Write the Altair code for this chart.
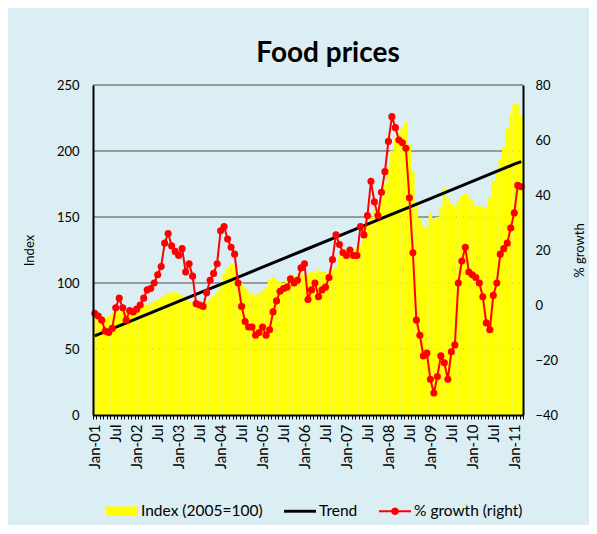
import altair as alt
import pandas as pd

# ---- categories -------------------------------------------------------
years = list(range(2001, 2012))
months = [f"{y}-{m:02d}" for y in years for m in range(1, 13)][:123]  # Jan-01 .. Mar-11

# ---- series values ----------------------------------------------------
index_values = [
    78, 77, 75, 74, 75, 77, 79, 78, 80, 80, 81, 82,            # 2001
    82, 83, 84, 83, 85, 86, 87, 89, 90, 93, 92, 93,            # 2002
    92, 91, 88, 86, 85, 84, 83, 84, 86, 88, 90, 93,            # 2003
    98, 107, 112, 115, 113, 105, 100, 96, 93, 92, 91, 92,      # 2004
    94, 97, 103, 104, 102, 101, 100, 102, 104, 106, 105, 107,  # 2005
    106, 107, 109, 108, 110, 109, 108, 108, 110, 112, 120, 124,  # 2006
    126, 123, 125, 127, 128, 134, 145, 150, 155, 156, 165, 175,  # 2007
    188, 200, 210, 214, 218, 222, 205, 184, 160, 149, 143, 142,  # 2008
    153, 148, 150, 158, 172, 164, 160, 158, 162, 166, 168, 165,  # 2009
    163, 159, 158, 158, 157, 165, 177, 183, 194, 203, 217, 228,  # 2010
    236, 235, 227,                                               # 2011
]

growth_values = [
    -3, -4, -5.5, -9.5, -10, -8.5, -1, 2.5, -1, -5.5, -2, -2.5,
    -1.5, 0, 2.5, 5.5, 6, 8, 11, 14, 22.5, 26, 21.5, 19.5,
    18, 20.5, 12, 15, 10.5, 0.5, 0, -0.5, 4.5, 9, 11.5, 15,
    27, 28.5, 24, 21, 18.5, 8, -0.5, -6, -8, -8, -11, -10,
    -8, -11, -9, -2.5, 1.5, 5, 6, 6.5, 9.5, 8, 9, 13.5,
    15, 2, 5.5, 8, 3, 5.5, 6.5, 10, 16.5, 25.5, 22, 19,
    18, 20, 18, 18, 28.5, 25.5, 32.5, 45, 37.5, 32.5, 41, 48.5,
    59.5, 68.5, 64.5, 60, 59, 57, 39, 19, -5.5, -11, -18.5, -17.5,
    -27, -32, -26, -18.5, -21, -27, -17, -14.5, 8, 16, 21, 12,
    11, 10, 8, 3, -6.5, -9, 3.5, 8, 18.5, 20.5, 22.5, 28,
    33.5, 43.5, 43,
]

trend_months = ["2001-01", "2002-01", "2003-01", "2004-01", "2005-01", "2006-01",
                "2007-01", "2008-01", "2009-01", "2010-01", "2011-01", "2011-03"]
trend_values = [60, 73, 86, 99, 112, 125, 138, 151, 164, 177, 190, 192]

left_ticks = [0, 50, 100, 150, 200, 250]
grid_values = [50, 100, 150, 200, 250]
right_ticks = [-40, -20, 0, 20, 40, 60, 80]

series_names = ["Index (2005=100)", "Trend", "% growth (right)"]
series_colors = ["#FFFF00", "#000000", "#FF0000"]
series_shapes = [
    "M-1,-0.3H1V0.3H-1Z",
    "M-1,-0.09H1V0.09H-1Z",
    "M-1,-0.06H1V0.06H-1Z M-0.24,0A0.24,0.24 0 1,1 0.24,0A0.24,0.24 0 1,1 -0.24,0Z",
]

FONT = "Lato"

df = pd.DataFrame({"month": months, "index": index_values, "growth": growth_values})
tdf = pd.DataFrame({"month": trend_months, "index": trend_values})
gdf = pd.DataFrame({"index": grid_values})
ldf = pd.DataFrame({"series": series_names})

label_expr = ("substring(datum.value,5,7)=='01' ? 'Jan-' + substring(datum.value,2,4) : "
              "(substring(datum.value,5,7)=='07' ? 'Jul' : '')")

xscale = alt.Scale(domain=months, paddingInner=0, paddingOuter=0)
yleft = alt.Scale(domain=[0, 250], nice=False, zero=True)
yright = alt.Scale(domain=[-40, 80], nice=False, zero=False)

x_axis = alt.Axis(title=None, labelExpr=label_expr, labelAngle=270,
                  labelOverlap=False, labelFontSize=15, labelPadding=5,
                  tickSize=4, tickColor="#000000", tickWidth=1, tickBand="extent",
                  domainColor="#000000", domainWidth=2, zindex=1,
                  labelColor="#000000", labelFont=FONT)
yl_axis = alt.Axis(title="Index", orient="left", values=left_ticks, grid=False,
                   ticks=False, labelPadding=14, labelFontSize=13,
                   titleFontSize=13, titleFontWeight="normal", titlePadding=20,
                   domainColor="#000000", domainWidth=2, zindex=1,
                   labelColor="#000000", titleColor="#000000",
                   labelFont=FONT, titleFont=FONT)
yr_axis = alt.Axis(title="% growth", orient="right", values=right_ticks, grid=False,
                   ticks=False, labelPadding=12, labelFontSize=13,
                   titleFontSize=13, titleFontWeight="normal", titlePadding=16,
                   titleAngle=270, titleBaseline="top",
                   domainColor="#000000", domainWidth=2, zindex=1,
                   labelColor="#000000", titleColor="#000000",
                   labelFont=FONT, titleFont=FONT)

grid = alt.Chart(gdf).mark_rule(color="#7f7f7f", strokeWidth=1.3).encode(
    y=alt.Y("index:Q", scale=yleft, axis=yl_axis)
)

bars = alt.Chart(df).mark_bar(color="#FFFF00", strokeWidth=0).encode(
    x=alt.X("month:O", scale=xscale, sort=None, axis=x_axis),
    y=alt.Y("index:Q", scale=yleft, axis=yl_axis),
)

trend = alt.Chart(tdf).mark_line(color="#000000", strokeWidth=3).encode(
    x=alt.X("month:O", scale=xscale, sort=None, axis=x_axis),
    y=alt.Y("index:Q", scale=yleft, axis=yl_axis),
)

left_layer = alt.layer(grid, bars, trend)

growth = alt.Chart(df).mark_line(
    color="#FF0000", strokeWidth=2,
    point=alt.OverlayMarkDef(filled=True, color="#FF0000", size=50, opacity=1),
).encode(
    x=alt.X("month:O", scale=xscale, sort=None, axis=x_axis),
    y=alt.Y("growth:Q", scale=yright, axis=yr_axis),
)

legend_kw = dict(title=None, orient="none", legendX=13, legendY=410, direction="horizontal",
                 symbolSize=1024, symbolStrokeWidth=0, labelFontSize=15.5, labelFont=FONT,
                 labelColor="#000000", columnPadding=21, labelOffset=3)

legend_layer = alt.Chart(ldf).transform_filter("false").mark_point(filled=True, opacity=1).encode(
    color=alt.Color("series:N", scale=alt.Scale(domain=series_names, range=series_colors),
                    legend=alt.Legend(**legend_kw)),
    shape=alt.Shape("series:N", scale=alt.Scale(domain=series_names, range=series_shapes),
                    legend=alt.Legend(**legend_kw)),
)

chart = alt.layer(left_layer, growth, legend_layer).resolve_scale(
    y="independent"
).properties(
    width=430, height=330,
    title=alt.TitleParams("Food prices", fontSize=28, font=FONT, fontWeight="bold",
                          color="#000000", anchor="middle", offset=11, dx=20),
    autosize=alt.AutoSizeParams(type="none"),
    padding={"left": 85, "top": 77, "right": 66, "bottom": 110},
    background="#DAEEF3",
).configure_view(fill="white", stroke=None).configure(font=FONT)

chart.save("out.html", embed_options={"renderer": "svg", "actions": False})
